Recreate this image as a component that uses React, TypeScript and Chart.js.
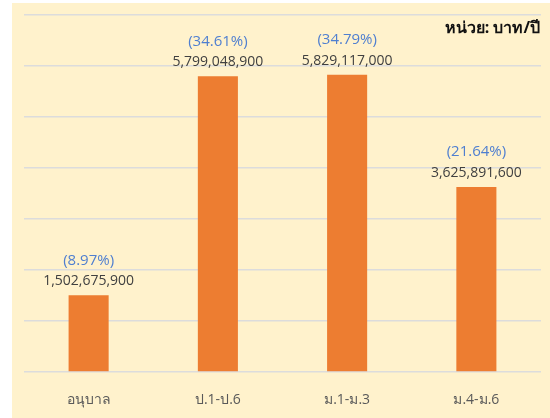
import React, { useEffect, useRef } from "react";
import { Chart, registerables } from "chart.js";

Chart.register(...registerables);

const categories = ["อนุบาล", "ป.1-ป.6", "ม.1-ม.3", "ม.4-ม.6"];
const values = [1502675900, 5799048900, 5829117000, 3625891600];
const percentLabels = ["(8.97%)", "(34.61%)", "(34.79%)", "(21.64%)"];
const unitText = "หน่วย: บาท/ปี";
const yMax = 7000000000;
const yStep = 1000000000;

const FONT = "'Open Sans', 'Noto Sans', sans-serif";

const labelPlugin = {
  id: "barLabels",
  afterDatasetsDraw(chart: any) {
    const ctx = chart.ctx;
    const meta = chart.getDatasetMeta(0);
    const area = chart.chartArea;
    ctx.save();
    ctx.textAlign = "center";
    ctx.textBaseline = "middle";
    meta.data.forEach((bar: any, i: number) => {
      ctx.font = `14px ${FONT}`;
      ctx.fillStyle = "#404040";
      ctx.fillText(values[i].toLocaleString("en-US"), bar.x, bar.y - 14);
      ctx.font = `15px ${FONT}`;
      ctx.fillStyle = "#4F7FD0";
      ctx.fillText(percentLabels[i], bar.x, bar.y - 35);
      ctx.font = `14px ${FONT}`;
      ctx.fillStyle = "#595959";
      ctx.fillText(categories[i], bar.x, area.bottom + 28);
    });
    ctx.font = `bold 16px ${FONT}`;
    ctx.fillStyle = "#111111";
    ctx.textAlign = "right";
    ctx.fillText(unitText, area.right - 1, 25);
    ctx.restore();
  },
};

export default function App() {
  const ref = useRef<HTMLCanvasElement>(null);
  useEffect(() => {
    document.body.style.margin = "0";
    const chart = new Chart(ref.current!, {
      type: "bar",
      data: {
        labels: categories,
        datasets: [
          {
            data: values,
            backgroundColor: "#ED7D31",
            borderWidth: 0,
            barPercentage: 0.31,
            categoryPercentage: 1,
          },
        ],
      },
      options: {
        animation: false,
        responsive: false,
        maintainAspectRatio: false,
        layout: { padding: { left: 12, right: 9, top: 12, bottom: 46 } },
        plugins: { legend: { display: false }, tooltip: { enabled: false } },
        scales: {
          x: {
            display: false,
          },
          y: {
            min: 0,
            max: yMax,
            ticks: { stepSize: yStep, display: false },
            grid: { color: "#DCDCDC", lineWidth: 1.5, drawTicks: false },
            border: { display: false },
          },
        },
      },
      plugins: [labelPlugin],
    });
    return () => chart.destroy();
  }, []);
  return (
    <div
      style={{
        position: "absolute",
        left: 12,
        top: 3,
        width: 538,
        height: 415,
        background: "#FFF2CC",
      }}
    >
      <canvas ref={ref} width={538} height={415} style={{ display: "block" }} />
    </div>
  );
}
